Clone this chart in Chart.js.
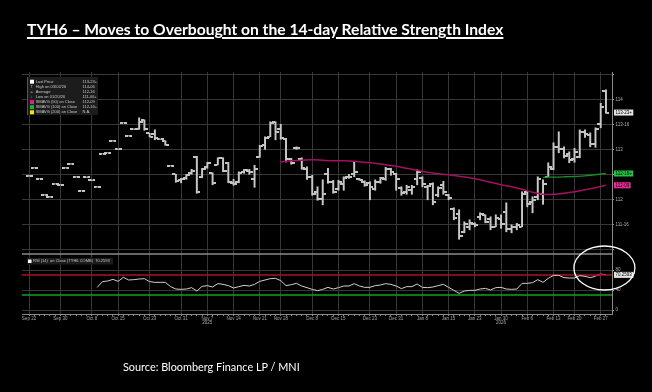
<!DOCTYPE html>
<html>
<head>
<meta charset="utf-8">
<script src="https://cdn.jsdelivr.net/npm/chart.js@4.4.1/dist/chart.umd.min.js"></script>
<style>
  html, body { margin: 0; padding: 0; background: #000; }
  body { width: 652px; height: 392px; position: relative; overflow: hidden; }
  #chart { position: absolute; left: 0; top: 0; }
  #title { position: absolute; left: 27px; top: 22px; color: #fff; font: bold 15px Lato, sans-serif; line-height: 1;
           text-decoration: underline; text-decoration-thickness: 1.5px; text-underline-offset: 2px; white-space: nowrap; }
  #source { position: absolute; left: 123px; top: 362px; color: #fff; font: 11px Lato, sans-serif; line-height: 1; white-space: nowrap; }
</style>
</head>
<body>
<canvas id="chart" width="652" height="392"></canvas>
<div id="title">TYH6 – Moves to Overbought on the 14-day Relative Strength Index</div>
<div id="source">Source: Bloomberg Finance LP / MNI</div>
<script>
// trading days, Sep 22 2025 .. Mar 2 2026
const dates = [
  'Sep 22','Sep 23','Sep 24','Sep 25','Sep 26','Sep 29','Sep 30',
  'Oct 1','Oct 2','Oct 3','Oct 6','Oct 7','Oct 8','Oct 9','Oct 10','Oct 13','Oct 14','Oct 15','Oct 16','Oct 17',
  'Oct 20','Oct 21','Oct 22','Oct 23','Oct 24','Oct 27','Oct 28','Oct 29','Oct 30','Oct 31',
  'Nov 3','Nov 4','Nov 5','Nov 6','Nov 7','Nov 10','Nov 11','Nov 12','Nov 13','Nov 14',
  'Nov 17','Nov 18','Nov 19','Nov 20','Nov 21','Nov 24','Nov 25','Nov 26','Nov 28',
  'Dec 1','Dec 2','Dec 3','Dec 4','Dec 5','Dec 8','Dec 9','Dec 10','Dec 11','Dec 12','Dec 15',
  'Dec 16','Dec 17','Dec 18','Dec 19','Dec 22','Dec 23','Dec 24','Dec 26','Dec 29','Dec 30','Dec 31',
  'Jan 2','Jan 5','Jan 6','Jan 7','Jan 8','Jan 9','Jan 12','Jan 13','Jan 14','Jan 15',
  'Jan 16','Jan 20','Jan 21','Jan 22','Jan 23','Jan 26','Jan 27','Jan 28','Jan 29','Jan 30',
  'Feb 2','Feb 3','Feb 4','Feb 5','Feb 6','Feb 9','Feb 10','Feb 11','Feb 12','Feb 13',
  'Feb 17','Feb 18','Feb 19','Feb 20','Feb 23','Feb 24','Feb 25','Feb 26','Feb 27',
  'Mar 2'
];
const tickDates = ['Sep 22','Sep 30','Oct 8','Oct 15','Oct 23','Oct 31','Nov 7','Nov 14','Nov 21','Nov 28',
  'Dec 8','Dec 15','Dec 23','Dec 31','Jan 8','Jan 15','Jan 23','Jan 30','Feb 6','Feb 13','Feb 20','Feb 27'];
const yearUnder = { 'Nov 7': '2025', 'Jan 30': '2026' };

const opens = [
  112.47,112.63,112.41,112.09,112.05,112.31,112.29,112.63,112.71,112.45,
  112.17,112.44,112.38,112.25,112.91,112.93,113.17,113.00,113.53,113.27,
  113.40,113.40,113.58,113.32,113.30,113.20,113.17,112.67,112.50,112.38,
  112.42,112.52,112.85,112.45,112.64,112.52,112.69,112.82,112.73,112.33,
  112.35,112.55,112.56,112.40,112.84,113.08,113.25,113.55,113.40,113.20,
  112.80,113.03,112.80,112.60,112.45,112.15,112.00,112.50,112.35,112.20,
  112.30,112.44,112.50,112.40,112.35,112.33,112.20,112.35,112.40,112.60,
  112.50,112.22,112.15,112.18,112.40,112.42,112.25,112.30,112.08,112.28,
  112.08,111.80,111.70,111.35,111.45,111.50,111.65,111.68,111.60,111.45,
  111.60,111.75,111.40,111.45,111.45,112.15,111.95,112.05,112.10,112.45,
  112.60,113.05,113.00,112.90,112.80,112.85,113.35,113.28,113.10,113.50,
  114.17
];
const highs = [
  112.47,112.63,112.41,112.09,112.05,112.31,112.29,112.63,112.71,112.45,
  112.17,112.44,112.38,112.25,112.91,112.93,113.17,113.00,113.53,113.27,
  113.40,113.63,113.59,113.32,113.39,113.20,113.17,112.67,112.50,112.42,
  112.50,112.60,112.86,112.62,112.74,112.53,112.83,112.83,112.74,112.40,
  112.55,112.60,112.60,112.68,113.08,113.25,113.55,113.55,113.50,113.22,
  112.82,113.05,112.83,112.65,112.48,112.25,112.39,112.62,112.38,112.38,
  112.45,112.50,112.75,112.42,112.37,112.35,112.39,112.44,112.64,112.62,
  112.52,112.25,112.28,112.28,112.59,112.45,112.28,112.33,112.25,112.36,
  112.10,111.83,111.79,111.55,111.59,111.53,111.73,111.69,111.65,111.69,
  111.69,111.93,111.49,111.52,112.15,112.15,112.05,112.45,112.39,112.73,
  113.13,113.35,113.05,112.95,113.02,113.39,113.39,113.33,113.43,113.92,
  114.19
];
const lows = [
  112.47,112.63,112.41,112.09,112.05,112.31,112.29,112.63,112.71,112.45,
  112.17,112.44,112.38,112.25,112.91,112.93,113.17,113.00,113.53,113.27,
  113.40,113.40,113.38,113.25,113.19,113.20,113.08,112.67,112.34,112.33,
  112.40,112.50,112.12,112.43,112.62,112.29,112.69,112.55,112.33,112.28,
  112.33,112.52,112.50,112.24,112.84,113.00,113.25,113.19,113.20,112.75,
  112.70,113.00,112.60,112.40,112.08,111.98,111.89,112.32,112.12,112.18,
  112.18,112.42,112.45,112.38,112.26,111.99,112.18,112.32,112.38,112.48,
  112.18,112.08,112.10,112.10,112.29,112.25,111.99,111.89,112.05,112.10,
  111.99,111.59,111.20,111.33,111.39,111.45,111.59,111.53,111.39,111.45,
  111.42,111.35,111.33,111.39,111.45,111.85,111.73,111.99,111.90,112.45,
  112.59,112.93,112.83,112.73,112.74,112.83,113.24,113.05,113.04,113.43,
  113.72
];
const closes = [
  112.47,112.63,112.41,112.09,112.05,112.31,112.29,112.63,112.71,112.45,
  112.17,112.44,112.38,112.25,112.91,112.93,113.17,113.00,113.53,113.27,
  113.40,113.55,113.40,113.25,113.22,113.20,113.08,112.67,112.36,112.40,
  112.48,112.57,112.14,112.60,112.72,112.32,112.83,112.56,112.35,112.30,
  112.52,112.58,112.55,112.60,113.07,113.22,113.52,113.35,113.22,112.80,
  112.72,113.03,112.62,112.45,112.10,112.00,112.10,112.35,112.15,112.35,
  112.42,112.45,112.55,112.38,112.28,112.25,112.35,112.42,112.60,112.55,
  112.40,112.12,112.25,112.25,112.55,112.30,112.26,111.95,112.22,112.15,
  112.02,111.62,111.27,111.50,111.52,111.48,111.70,111.55,111.45,111.62,
  111.50,111.40,111.45,111.48,112.10,111.90,111.99,112.40,112.30,112.65,
  113.05,113.00,112.87,112.78,112.95,113.35,113.30,113.10,113.40,113.85,
  113.735
];

const sma50Idx = [48,50,52,54,56,58,60,62,64,66,68,70,72,74,76,78,80,82,84,86,88,90,92,94,96,98,100,102,104,106,108,110];
const sma50 = [112.75,112.77,112.78,112.79,112.78,112.77,112.77,112.76,112.74,112.72,112.69,112.66,112.62,112.58,112.54,112.51,
  112.49,112.46,112.43,112.39,112.34,112.29,112.25,112.20,112.14,112.10,112.10,112.12,112.15,112.19,112.23,112.28];
const sma100Idx = [98,102,106,110];
const sma100 = [112.44,112.45,112.47,112.516];
const averagePrice = 112.5;

const rsi = [
  null,null,null,null,null,null,null,null,null,null,
  null,null,null,45.3,56.7,58,61.3,57.3,65.3,60,
  60.7,62,62.7,56.7,55.3,55.3,55.3,46.7,42,41.3,
  42,44.7,38,47.3,48.7,46,52.7,51.3,48.7,44,
  46.7,49.3,48,51.3,57.3,60,62.7,63.3,58.7,48.7,
  50.7,53.3,48,44.7,41.3,38.7,41.3,45.3,42,44.7,
  48,48,52.7,48,45.3,45.3,48.7,50,52.7,51.3,
  48,42.7,46.7,46.7,52,45.3,44.7,46,48.7,51.3,
  45.3,39.3,33.3,38,39.3,39.3,42,43.3,40,44.7,
  45.3,42,41.3,42,53.3,53.3,54.7,60.7,55.3,63.3,
  69.3,69.3,64.7,64,64,68.7,67.3,64.7,67.3,72.7,
  70.2593
];
const rsiHigh = 70;
const rsiLow = 30;

const priceTicks = [111, 111.5, 112, 112.5, 113, 113.5, 114, 114.5];
const rsiTicks = [0, 20, 40, 60, 80, 100];

// price in 32nds, half-32nds shown as "+"
function to32(v) {
  let w = Math.floor(v);
  let t = Math.round((v - w) * 64) / 2;
  if (t >= 32) { w += 1; t -= 32; }
  if (t === 0) return String(w);
  const n = Math.floor(t);
  return w + '-' + String(n).padStart(2, '0') + (t > n ? '+' : '');
}

function tickImage(side) {
  const c = document.createElement('canvas');
  c.width = 7; c.height = 2;
  const g = c.getContext('2d');
  g.fillStyle = '#c4c4c4';
  g.fillRect(side < 0 ? 0 : 4, 0, 3, 2);
  return c;
}

const BAR = '#c8c8c8';
const MAGENTA = '#a3115f';
const GRID = '#383838';
const SMALL = '4.5px "Liberation Sans", sans-serif';
const TINY = '4px "Liberation Sans Narrow", "Liberation Sans", sans-serif';

const hlData = dates.map((d, i) => ({ x: i, y: [lows[i], highs[i]] }));
const openData = opens.map((v, i) => ({ x: i, y: v }));
const closeData = closes.map((v, i) => ({ x: i, y: v }));
const sma50Data = sma50Idx.map((x, k) => ({ x, y: sma50[k] }));
const sma100Data = sma100Idx.map((x, k) => ({ x, y: sma100[k] }));
const rsiData = rsi.map((v, i) => ({ x: i, y: v })).filter(p => p.y !== null);
const tickIdx = tickDates.map(d => dates.indexOf(d));
const last = dates.length - 1;

const panels = {
  id: 'panels',
  beforeDatasetsDraw(chart) {
    const { ctx, chartArea: a, scales } = chart;
    ctx.save();
    ctx.strokeStyle = '#8a8a8a';
    ctx.lineWidth = 1.5;
    ctx.beginPath();
    ctx.moveTo(a.left, scales.y.bottom + 1);
    ctx.lineTo(a.right, scales.y.bottom + 1);
    ctx.stroke();
    [[rsiHigh, '#a8141c'], [rsiLow, '#12a11f']].forEach(([v, c]) => {
      const py = scales.rsi.getPixelForValue(v);
      ctx.strokeStyle = c;
      ctx.lineWidth = 1.6;
      ctx.beginPath();
      ctx.moveTo(a.left, py);
      ctx.lineTo(a.right, py);
      ctx.stroke();
    });
    ctx.restore();
  },
  afterDraw(chart) {
    const { ctx, chartArea: a, scales } = chart;
    const y = scales.y, r = scales.rsi, x = scales.x;
    ctx.save();
    ctx.textBaseline = 'middle';

    // legend box, price panel
    ctx.font = TINY;
    const lx = a.left + 5, ly = a.top + 5;
    ctx.fillStyle = '#1c1c1c';
    ctx.fillRect(lx, ly, 71, 38);
    ctx.fillStyle = '#555';
    ctx.fillRect(lx, ly, 1, 38);
    const rows = [
      ['sq', '#ffffff', 'Last Price', to32(closes[last])],
      ['T', '#bbb', 'High on 03/02/26', to32(Math.max(...highs))],
      ['=', '#bbb', 'Average', to32(averagePrice)],
      ['\u2193', '#bbb', 'Low on 01/20/26', to32(Math.min(...lows))],
      ['sq', '#e0208a', 'SMAVG (50) on Close', to32(sma50[sma50.length - 1])],
      ['sq', '#1fb03a', 'SMAVG (100) on Close', to32(sma100[sma100.length - 1])],
      ['sq', '#f2e600', 'SMAVG (200) on Close', 'N.A.']
    ];
    rows.forEach((row, k) => {
      const cy = ly + 4.7 + k * 5.1;
      if (row[0] === 'sq') {
        ctx.fillStyle = row[1];
        ctx.fillRect(lx + 3, cy - 2, 4, 4);
      } else {
        ctx.fillStyle = row[1];
        ctx.fillText(row[0], lx + 3.5, cy);
      }
      ctx.fillStyle = '#c8c8c8';
      ctx.fillText(row[2], lx + 8.7, cy);
      ctx.fillText(row[3], lx + 55.5, cy);
    });

    // legend box, RSI panel
    const ry = r.top + 5;
    ctx.fillStyle = '#1c1c1c';
    ctx.fillRect(lx, ry, 86, 6.5);
    ctx.fillStyle = '#fff';
    ctx.fillRect(lx + 1, ry + 1.5, 3.5, 3.5);
    ctx.fillStyle = '#c8c8c8';
    ctx.fillText('RSI (14)  on Close (TYH6 COMB)  ' + rsi[last].toFixed(4), lx + 6, ry + 3.3);

    // value tags on the right axis
    ctx.font = SMALL;
    const tag = (py, text, bg, fg) => {
      const w = ctx.measureText(text).width + 3;
      ctx.fillStyle = bg;
      ctx.fillRect(a.right + 2, py - 3, w, 6);
      ctx.fillStyle = fg;
      ctx.fillText(text, a.right + 3.5, py + 0.3);
    };
    tag(y.getPixelForValue(closes[last]), to32(closes[last]), '#e6e6e6', '#000');
    tag(y.getPixelForValue(sma100[sma100.length - 1]), to32(sma100[sma100.length - 1]), '#22c43f', '#000');
    tag(y.getPixelForValue(sma50[sma50.length - 1]), to32(sma50[sma50.length - 1]), '#ee2a9a', '#000');
    tag(r.getPixelForValue(rsi[last]), rsi[last].toFixed(4), '#e6e6e6', '#000');

    // highlight ring around the latest RSI reading
    ctx.strokeStyle = '#fff';
    ctx.lineWidth = 1.3;
    ctx.beginPath();
    ctx.ellipse(x.getPixelForValue(109.7), r.getPixelForValue(84), 30.5, 22, 0, 0, Math.PI * 2);
    ctx.stroke();
    ctx.restore();
  }
};

new Chart(document.getElementById('chart'), {
  type: 'bar',
  data: {
    datasets: [
      { type: 'bar', data: hlData, backgroundColor: BAR, borderWidth: 0, barThickness: 1.3, yAxisID: 'y', order: 3 },
      { type: 'line', data: openData, showLine: false, pointStyle: tickImage(-1), pointRadius: 3, yAxisID: 'y', order: 2 },
      { type: 'line', data: closeData, showLine: false, pointStyle: tickImage(1), pointRadius: 3, yAxisID: 'y', order: 2 },
      { type: 'line', data: sma50Data, borderColor: MAGENTA, borderWidth: 1.5, pointRadius: 0, tension: 0.3, yAxisID: 'y', order: 1 },
      { type: 'line', data: sma100Data, borderColor: '#1a8a2a', borderWidth: 1.3, pointRadius: 0, tension: 0.3, yAxisID: 'y', order: 1 },
      { type: 'line', data: rsiData, borderColor: '#cfcfcf', borderWidth: 1, pointRadius: 0, yAxisID: 'rsi', order: 1,
        segment: { borderColor: c => (c.p0.parsed.y > rsiHigh || c.p1.parsed.y > rsiHigh) ? '#e0208a' : undefined } }
    ]
  },
  options: {
    responsive: false,
    animation: false,
    events: [],
    layout: { padding: { left: 22, top: 72, right: 12, bottom: 62 } },
    plugins: { legend: { display: false }, tooltip: { enabled: false } },
    scales: {
      x: {
        type: 'linear', min: -1.335, max: 111.15, offset: false,
        afterBuildTicks: s => { s.ticks = dates.map((d, i) => ({ value: i })); },
        afterFit: s => { s.height = 16; },
        grid: {
          offset: false,
          color: c => tickIdx.includes(c.tick && c.tick.value) ? GRID : 'rgba(0,0,0,0)',
          tickColor: '#8a8a8a', tickLength: 2, lineWidth: 1
        },
        border: { display: true, color: '#8a8a8a' },
        ticks: {
          autoSkip: false, maxRotation: 0, padding: 0, color: '#a8a8a8',
          font: { size: 4.5, family: '"Liberation Sans", sans-serif', lineHeight: 1.05 },
          callback: v => {
            const d = dates[v];
            if (!tickDates.includes(d)) return '';
            return yearUnder[d] ? [d, yearUnder[d]] : d;
          }
        }
      },
      y: {
        position: 'right', stack: 'panes', stackWeight: 181,
        min: 110.926, max: 114.546, beginAtZero: false,
        afterBuildTicks: s => { s.ticks = priceTicks.map(v => ({ value: v })); },
        afterFit: s => { s.width = 28; },
        grid: { color: GRID, tickColor: '#8a8a8a', tickLength: 2 },
        border: { display: true, color: '#8a8a8a' },
        ticks: {
          padding: 1.5, color: '#b0b0b0',
          font: { size: 4.5, family: '"Liberation Sans", sans-serif' },
          callback: v => (v === 111 || v === 114.5) ? '' : to32(v)
        }
      },
      rsi: {
        position: 'right', stack: 'panes', stackWeight: 61,
        min: -8, max: 114, beginAtZero: false,
        afterBuildTicks: s => { s.ticks = rsiTicks.map(v => ({ value: v })); },
        afterFit: s => { s.width = 28; },
        grid: { color: GRID, tickColor: '#8a8a8a', tickLength: 2 },
        border: { display: true, color: '#8a8a8a' },
        ticks: {
          padding: 1.5, color: '#b0b0b0',
          font: { size: 4.5, family: '"Liberation Sans", sans-serif' },
          callback: v => String(v)
        }
      }
    }
  },
  plugins: [panels]
});

// squeeze the headings to the widths they have in the original
function fitWidth(el, target) {
  const w = el.getBoundingClientRect().width;
  const fs = parseFloat(getComputedStyle(el).fontSize);
  el.style.fontSize = (fs * target / w) + 'px';
}
fitWidth(document.getElementById('title'), 477);
fitWidth(document.getElementById('source'), 177);
</script>
</body>
</html>
